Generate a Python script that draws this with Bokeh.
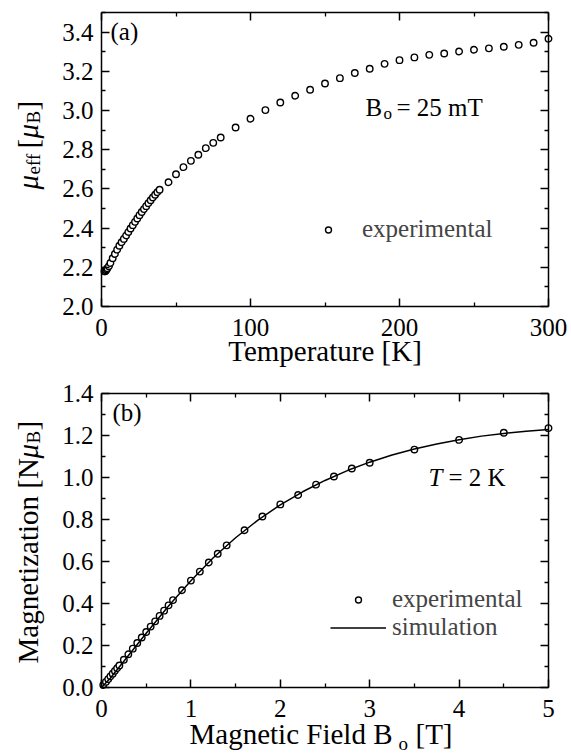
import math
from bokeh.plotting import figure
from bokeh.models import LinearAxis, Label, Legend, LegendItem, FixedTicker, Range1d
from bokeh.core.properties import value
from bokeh.layouts import column
from bokeh.embed import file_html
from bokeh.resources import INLINE

# ---------------- data ----------------
temp_K = [2.0, 2.5, 3.0, 3.5, 4.0, 5.0, 6.0, 7.5, 9.0, 10.5, 12.0, 13.5, 15.0,
          16.5, 18.0, 19.5, 21.0, 22.5, 24.0, 25.5, 27.0, 28.5, 30.0, 31.5,
          33.0, 34.5, 36.0, 37.5, 39.0,
          45, 50, 55, 60, 65, 70, 75, 80, 90, 100, 110, 120, 130, 140, 150,
          160, 170, 180, 190, 200, 210, 220, 230, 240, 250, 260, 270, 280,
          290, 300]
mu_eff = [2.18, 2.18, 2.185, 2.19, 2.195, 2.205, 2.222, 2.246, 2.268, 2.29,
          2.31, 2.328, 2.345, 2.362, 2.38, 2.398, 2.415, 2.432, 2.449, 2.466,
          2.482, 2.497, 2.512, 2.527, 2.542, 2.556, 2.57, 2.583, 2.596,
          2.634, 2.675, 2.711, 2.743, 2.774, 2.808, 2.835, 2.862, 2.913,
          2.958, 3.002, 3.041, 3.075, 3.106, 3.138, 3.165, 3.191, 3.213,
          3.238, 3.257, 3.271, 3.284, 3.291, 3.301, 3.310, 3.317, 3.325,
          3.335, 3.346, 3.366]

field_exp = [0.02, 0.05, 0.075, 0.1, 0.125, 0.15, 0.175, 0.2, 0.25, 0.3, 0.35,
             0.4, 0.45, 0.5, 0.55, 0.6, 0.65, 0.7, 0.75, 0.8, 0.9, 1.0, 1.1,
             1.2, 1.3, 1.4, 1.6, 1.8, 2.0, 2.2, 2.4, 2.6, 2.8, 3.0, 3.5, 4.0,
             4.5, 5.0]
magn_exp = [0.012, 0.027, 0.04, 0.053, 0.066, 0.079, 0.092, 0.105, 0.132,
            0.158, 0.185, 0.212, 0.238, 0.264, 0.29, 0.315, 0.341, 0.366,
            0.391, 0.416, 0.463, 0.509, 0.552, 0.595, 0.637, 0.677, 0.749,
            0.814, 0.872, 0.917, 0.966, 1.005, 1.043, 1.07, 1.133, 1.179,
            1.213, 1.235]
field_sim = [0.0, 0.1, 0.25, 0.5, 0.75, 1.0, 1.25, 1.5, 1.75, 2.0, 2.25, 2.5,
             2.75, 3.0, 3.25, 3.5, 3.75, 4.0, 4.25, 4.5, 4.75, 5.0]
magn_sim = [0.0, 0.045, 0.125, 0.258, 0.388, 0.508, 0.618, 0.713, 0.797,
            0.870, 0.932, 0.986, 1.033, 1.073, 1.107, 1.136, 1.160, 1.180,
            1.197, 1.210, 1.220, 1.228]

a_xlim = (0, 300)
a_ylim = (2.0, 3.5)
a_xticks = [0, 100, 200, 300]
a_xminor = [50, 150, 250]
a_xlabels = ["0", "100", "200", "300"]
a_yticks = [2.0, 2.2, 2.4, 2.6, 2.8, 3.0, 3.2, 3.4]
a_yminor = [2.1, 2.3, 2.5, 2.7, 2.9, 3.1, 3.3, 3.5]
a_ylabels = ["2.0", "2.2", "2.4", "2.6", "2.8", "3.0", "3.2", "3.4"]
b_xlim = (0, 5)
b_ylim = (0.0, 1.4)
b_xticks = [0, 1, 2, 3, 4, 5]
b_xminor = [0.5, 1.5, 2.5, 3.5, 4.5]
b_xlabels = ["0", "1", "2", "3", "4", "5"]
b_yticks = [0.0, 0.2, 0.4, 0.6, 0.8, 1.0, 1.2, 1.4]
b_yminor = [0.1, 0.3, 0.5, 0.7, 0.9, 1.1, 1.3]
b_ylabels = ["0.0", "0.2", "0.4", "0.6", "0.8", "1.0", "1.2", "1.4"]

FONT = "Liberation Serif"
TICK_FS = "25px"
TITLE_FS = "29px"
SUB_FS = "19px"
ANN_FS = "25px"
ANN_SUB = "17px"

W = 571
H1 = 376
H2 = 377
LEFT, RIGHT = 101, 548          # frame edges (px)
R = math.pi / 2
SH = 9                          # label baseline correction (px)


def make_fig(h, xlim, ylim, top_px, bottom_px):
    kx = (RIGHT - LEFT) / (xlim[1] - xlim[0])
    ky = (bottom_px - top_px) / (ylim[1] - ylim[0])
    xr = Range1d(xlim[0] - LEFT / kx, xlim[1] + (W - RIGHT) / kx)
    yr = Range1d(ylim[0] - (h - bottom_px) / ky, ylim[1] + top_px / ky)
    p = figure(width=W, height=h, x_range=xr, y_range=yr,
               x_axis_type=None, y_axis_type=None, min_border=0,
               output_backend="svg", toolbar_location=None)
    p.grid.visible = False
    p.outline_line_color = None
    p.background_fill_color = "white"
    p.border_fill_color = "white"
    return p


def setup_axes(p, xlim, ylim, xt, xm, xl, yt, ym, yl):
    xtick = FixedTicker(ticks=xt, minor_ticks=xm)
    ytick = FixedTicker(ticks=yt, minor_ticks=ym)
    axes = [(LinearAxis(ticker=xtick, fixed_location=ylim[0], bounds=xlim), "below"),
            (LinearAxis(ticker=xtick, fixed_location=ylim[1], bounds=xlim), "above"),
            (LinearAxis(ticker=ytick, fixed_location=xlim[0], bounds=ylim), "left"),
            (LinearAxis(ticker=ytick, fixed_location=xlim[1], bounds=ylim), "right")]
    for ax, side in axes:
        ticks = xt if side in ("below", "above") else yt
        ax.major_label_overrides = {t: "" for t in ticks}
        ax.major_label_standoff = 0
        ax.axis_line_color = "black"
        ax.axis_line_width = 1.5
        ax.major_tick_in = 8
        ax.major_tick_out = 0
        ax.minor_tick_in = 4
        ax.minor_tick_out = 0
        ax.major_tick_line_width = 1.5
        ax.minor_tick_line_width = 1.3
        ax.major_tick_line_color = "black"
        ax.minor_tick_line_color = "black"
        p.add_layout(ax, side)
    p.text(x=xt, y=[ylim[0]] * len(xt), text=xl, text_font=value(FONT),
           text_font_size=value(TICK_FS), text_color="black",
           text_align="center", text_baseline="middle", y_offset=21)
    p.text(x=[xlim[0]] * len(yt), y=yt, text=yl, text_font=value(FONT),
           text_font_size=value(TICK_FS), text_color="black",
           text_align="right", text_baseline="middle", x_offset=-8)


def lab(p, x, y, text, fs, italic=False, angle=0.0, align="left"):
    if angle:
        x = x - SH
    else:
        y = y + SH
    p.add_layout(Label(x=x, y=y, x_units="screen", y_units="screen", text=text,
                       text_font=FONT, text_font_size=fs,
                       text_font_style="italic" if italic else "normal",
                       text_color="black", angle=angle, text_align=align,
                       text_baseline="alphabetic"))


def legend(p, items, loc):
    p.add_layout(Legend(items=items, location=loc, border_line_color=None,
                        background_fill_alpha=0, padding=0, margin=0,
                        glyph_width=56, glyph_height=15, label_standoff=6,
                        label_text_font=FONT, label_text_font_size=ANN_FS,
                        spacing=0))


# ---------------- panel (a) ----------------
p1 = make_fig(H1, a_xlim, a_ylim, 12, 306)
setup_axes(p1, a_xlim, a_ylim, a_xticks, a_xminor, a_xlabels,
           a_yticks, a_yminor, a_ylabels)
r1 = p1.scatter(temp_K, mu_eff, marker="circle", size=6.5, fill_color="white",
                line_color="black", line_width=1.4)
legend(p1, [LegendItem(label="experimental", renderers=[r1])], (300, 133))

lab(p1, 110, 336, "(a)", ANN_FS)
lab(p1, 365, 260, "B", ANN_FS)
lab(p1, 383, 254, "o", ANN_SUB)
lab(p1, 396, 260, "= 25 mT", ANN_FS)
lab(p1, (LEFT + RIGHT) / 2, 17, "Temperature [K]", TITLE_FS, align="center")

bx = 36
y0 = 187
lab(p1, bx, y0, "\u03bc", TITLE_FS, italic=True, angle=R)
lab(p1, bx + 6, y0 + 15, "eff", SUB_FS, angle=R)
lab(p1, bx, y0 + 41, "[", TITLE_FS, angle=R)
lab(p1, bx, y0 + 51, "\u03bc", TITLE_FS, italic=True, angle=R)
lab(p1, bx + 6, y0 + 66, "B", SUB_FS, angle=R)
lab(p1, bx, y0 + 79, "]", TITLE_FS, angle=R)

# ---------------- panel (b) ----------------
p2 = make_fig(H2, b_xlim, b_ylim, 17, 311)
setup_axes(p2, b_xlim, b_ylim, b_xticks, b_xminor, b_xlabels,
           b_yticks, b_yminor, b_ylabels)
r2 = p2.scatter(field_exp, magn_exp, marker="circle", size=6.5, fill_color="white",
                line_color="black", line_width=1.4)
r3 = p2.line(field_sim, magn_sim, line_color="black", line_width=1.5)
legend(p2, [LegendItem(label="experimental", renderers=[r2]),
            LegendItem(label="simulation", renderers=[r3])], (330, 112))

lab(p2, 112, 332, "(b)", ANN_FS)
lab(p2, 428, 267, "T", ANN_FS, italic=True)
lab(p2, 448, 267, "= 2 K", ANN_FS)

lab(p2, 189, 11, "Magnetic Field B", TITLE_FS)
lab(p2, 398, 1, "o", SUB_FS)
lab(p2, 415, 11, "[T]", TITLE_FS)

by = 90
lab(p2, bx, by, "Magnetization [N", TITLE_FS, angle=R)
lab(p2, bx, by + 205, "\u03bc", TITLE_FS, italic=True, angle=R)
lab(p2, bx + 6, by + 220, "B", SUB_FS, angle=R)
lab(p2, bx, by + 233, "]", TITLE_FS, angle=R)

layout = column(p1, p2, spacing=0)
open("out.html", "w").write(file_html(layout, INLINE))
